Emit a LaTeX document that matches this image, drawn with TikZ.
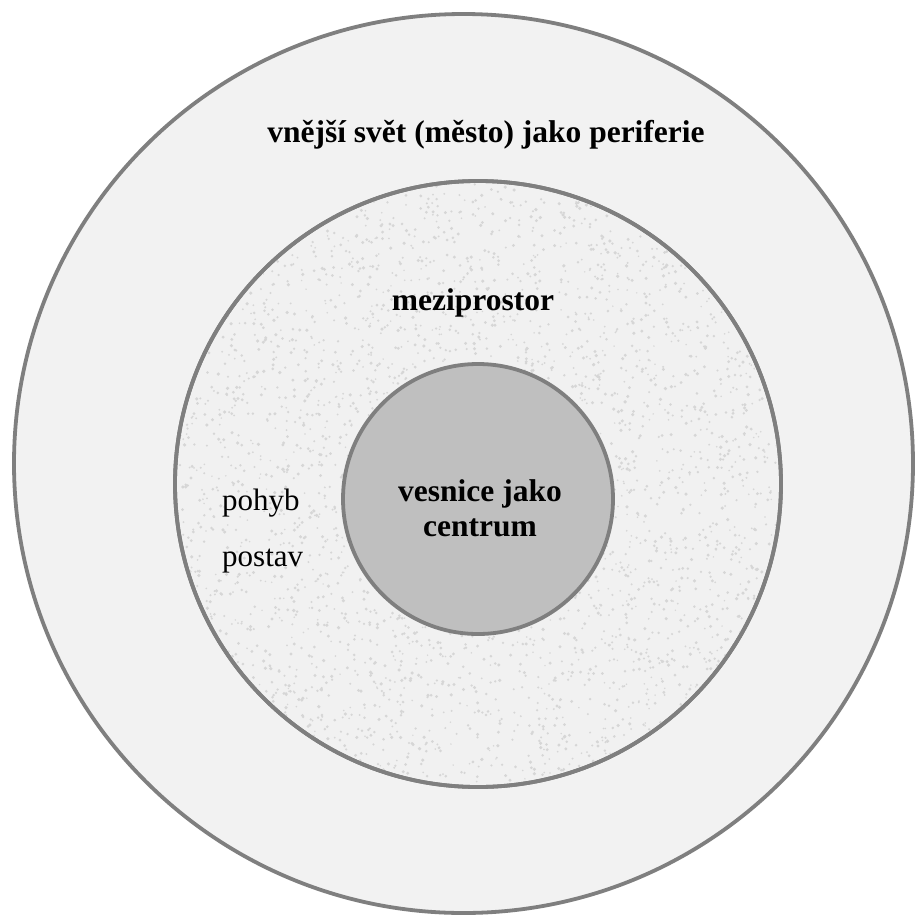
\documentclass[tikz,border=0pt]{standalone}
\usepackage{fontspec}
\setmainfont{Liberation Serif}
\definecolor{ringline}{HTML}{7F7F7F}
\definecolor{outerfill}{HTML}{F2F2F2}
\definecolor{midfill}{HTML}{F1F1F1}
\definecolor{speck}{HTML}{D6D6D6}
\definecolor{innerfill}{HTML}{BFBFBF}
\tikzset{
  ring/.style={circle, draw=ringline, line width=3.8pt, inner sep=0pt},
  boldlabel/.style={font=\fontsize{31.5}{35}\selectfont\bfseries, align=center, inner sep=0pt},
  plainlabel/.style={font=\fontsize{31}{35}\selectfont, anchor=west, inner sep=0pt}
}
\begin{document}
\begin{tikzpicture}[x=1pt,y=-1pt]
\useasboundingbox (0,0) rectangle (915,919);
\fill[white] (0,0) rectangle (915,919);
\node[ring, fill=outerfill, minimum size=899pt] (outer) at (463.5,463.5) {};
\node[ring, fill=midfill, minimum size=606pt] (middle) at (478,484) {};
\begin{scope}
  \clip (478,484) circle (301pt);
  \pgfmathsetseed{7}
  \foreach \i in {1,...,4000} {
    \fill[speck] ({478+300*rand},{484+300*rand}) circle ({0.8+1.0*rnd});
  }
\end{scope}
\draw[ringline, line width=3.8pt] (478,484) circle (303pt);
\node[ring, fill=innerfill, minimum size=270pt] (inner) at (478,499) {};
\node[boldlabel] (outerlabel) at (486,135) {vnější svět (město) jako periferie};
\node[boldlabel] (midlabel) at (473,303) {meziprostor};
\node[boldlabel] (innerlabel) at (480,508) {vesnice jako\\centrum};
\node[plainlabel] (pohyb) at (222,503) {pohyb};
\node[plainlabel] (postav) at (222,561) {postav};
\end{tikzpicture}
\end{document}
